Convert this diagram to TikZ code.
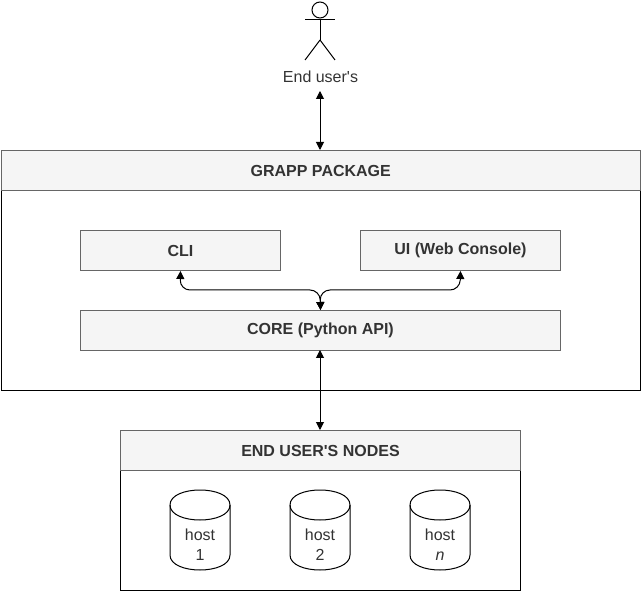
\documentclass[tikz,border=0pt]{standalone}
\usepackage{fontspec}
\newfontfamily\lblfont{Liberation Sans}
\usetikzlibrary{arrows.meta,positioning}
\definecolor{hdr}{HTML}{F5F5F5}
\definecolor{hdrline}{HTML}{666666}
\definecolor{txt}{HTML}{333333}
\tikzset{
  x=1pt,y=-1pt,
  headbox/.style={draw=hdrline,fill=hdr,line width=1pt,minimum height=40pt,inner sep=0pt,text=txt,font=\lblfont\fontsize{16}{18}\selectfont\bfseries,anchor=north west},
  frame/.style={draw=black,line width=1pt,fill=white,inner sep=0pt,anchor=north west},
  link/.style={draw=black,line width=1pt,{Triangle[length=8pt,width=8pt]}-{Triangle[length=8pt,width=8pt]}},
  forklink/.style={draw=black,line width=1pt,rounded corners=10pt,{Triangle[length=8pt,width=8pt]}-{Triangle[length=8pt,width=8pt]}},
  hostlabel/.style={font=\lblfont\fontsize{16}{20}\selectfont,align=center,text=txt,inner sep=0pt},
  limb/.style={draw=black,line width=1pt},
}
\newcommand{\hostcyl}[3]{%
  \draw[line width=1pt,fill=white] (#2-30,505) -- (#2-30,555)
    .. controls (#2-30,575) and (#2+30,575) .. (#2+30,555) -- (#2+30,505)
    .. controls (#2+30,485) and (#2-30,485) .. (#2-30,505) -- cycle;
  \draw[line width=1pt] (#2-30,505) .. controls (#2-30,525) and (#2+30,525) .. (#2+30,505);
  \node[hostlabel] (#1) at (#2,545) {host\\#3};
}
\begin{document}
\begin{tikzpicture}
\useasboundingbox (0,0) rectangle (641,591);
% actor
\coordinate (neck) at (320,20);
\coordinate (hip) at (320,40);
\draw[limb] (320,10) circle (8pt);
\draw[limb] (neck) -- (hip);
\draw[limb] (305,20) -- (335,20);
\draw[limb] (hip) -- (305,60);
\draw[limb] (hip) -- (335,60);
\node[font=\lblfont\fontsize{16}{18}\selectfont,text=txt,inner sep=0pt] (actor) at (320.5,76.5) {End user's};
% package
\node[frame,minimum width=639.5pt,minimum height=240pt] (pkg) at (0.5,150) {};
\node[headbox,minimum width=639.5pt] (pkghead) at (0.5,150) {GRAPP PACKAGE};
\node[headbox,minimum width=200pt] (cli) at (80,230) {CLI};
\node[headbox,minimum width=200pt] (ui) at (360,230) {UI (Web Console)};
\node[headbox,minimum width=480pt] (core) at (80,310) {CORE (Python API)};
% end user's nodes
\node[frame,minimum width=400pt,minimum height=160pt] (nodes) at (120,430) {};
\node[headbox,minimum width=400pt] (nodeshead) at (120,430) {END USER'S NODES};
\hostcyl{h1}{200}{1}
\hostcyl{h2}{320}{2}
\hostcyl{h3}{440}{\textit{n}}
% connectors
\coordinate (actorbot) at (320,91);
\draw[link] (actorbot) -- (320,150);
\draw[link] (320,350) -- (320,430);
\draw[forklink] (core.north) -- (320,290) -- (180,290) -- (cli.south);
\draw[forklink] (core.north) -- (320,290) -- (460,290) -- (ui.south);
\end{tikzpicture}
\end{document}
